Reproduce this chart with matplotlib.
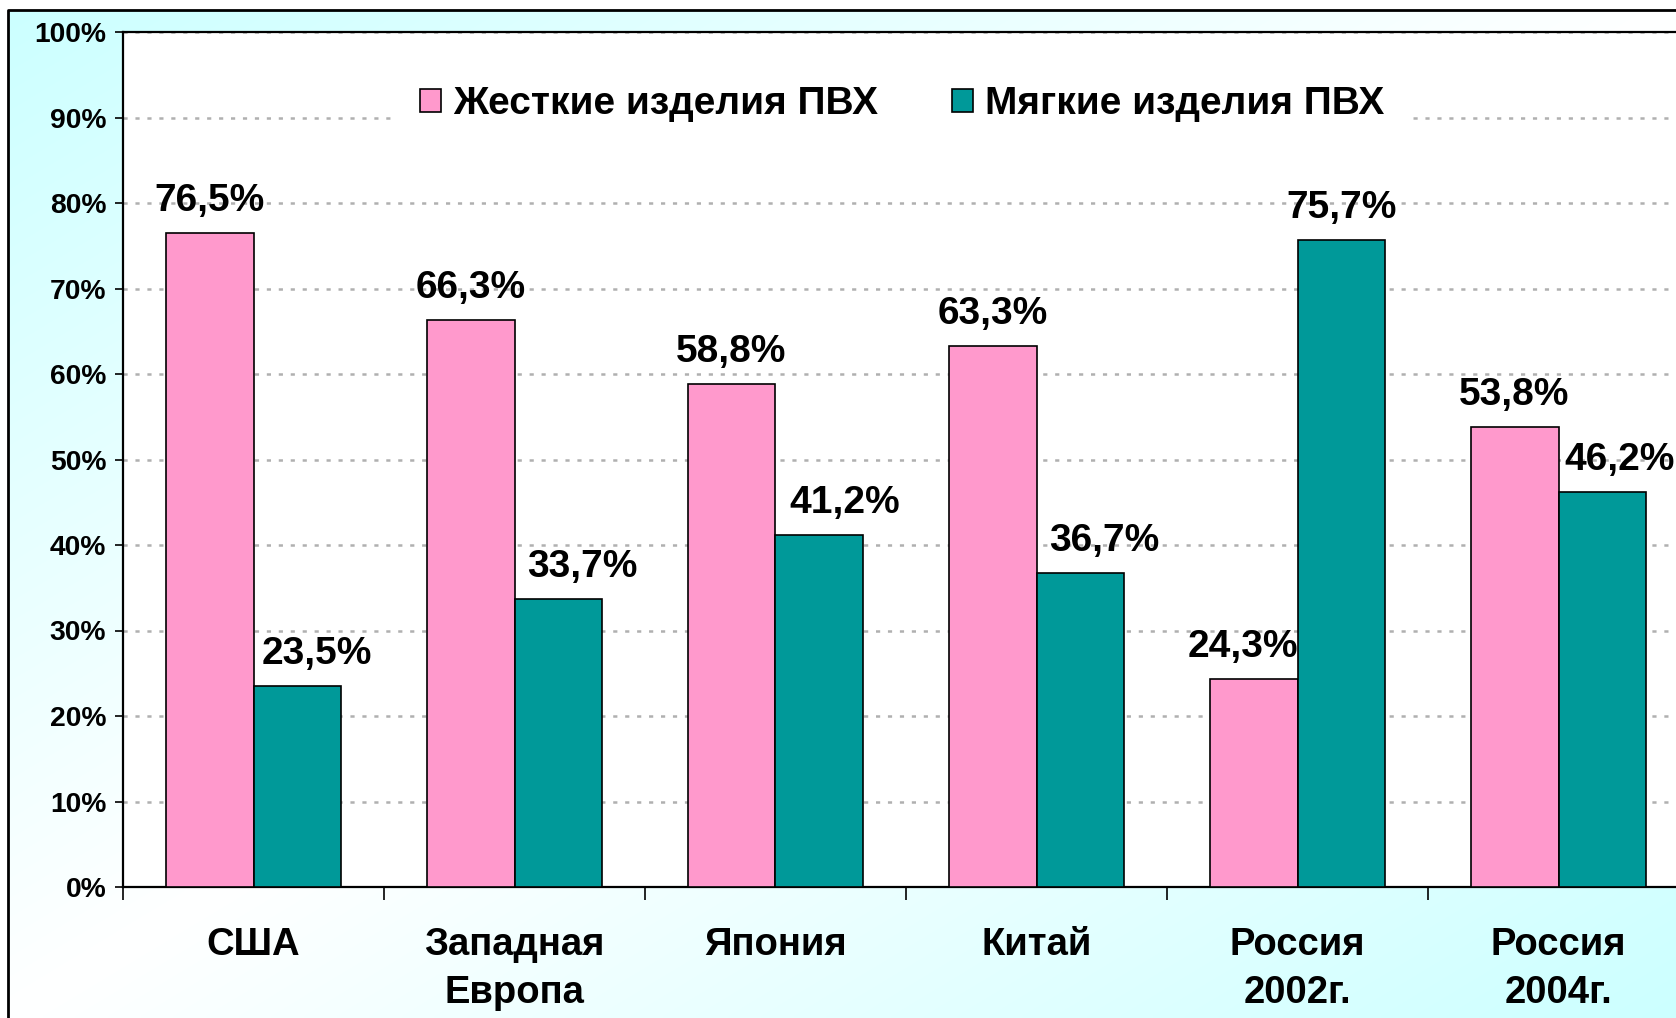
import matplotlib
matplotlib.use('Agg')
import matplotlib.pyplot as plt
import numpy as np
from matplotlib.patches import Patch

categories = ['США', 'Западная\nЕвропа', 'Япония', 'Китай', 'Россия\n2002г.', 'Россия\n2004г.']
rigid = [76.5, 66.3, 58.8, 63.3, 24.3, 53.8]
soft = [23.5, 33.7, 41.2, 36.7, 75.7, 46.2]
series_names = ['Жесткие изделия ПВХ', 'Мягкие изделия ПВХ']
ytick_values = list(range(0, 101, 10))
ytick_labels = ['%d%%' % v for v in ytick_values]

# the value labels in the original were nudged by hand (points)
rigid_dx = [0, 0, 0, 0, -8, 0]
soft_dx = [14, 17, 18, 17, 0, 12]

PINK = '#FF99CC'
TEAL = '#009999'

plt.rcParams['font.family'] = ['Liberation Sans', 'DejaVu Sans']
plt.rcParams['font.weight'] = 'bold'
plt.rcParams['lines.scale_dashes'] = False

W, H = 1676, 1018
fig = plt.figure(figsize=(W / 100, H / 100), dpi=100)

# background: diagonal cyan-white-cyan gradient inside a black frame
bg = fig.add_axes([0, 0, 1, 1], zorder=-10)
bg.axis('off')
u, v = np.meshgrid(np.linspace(0, 1, 400), np.linspace(0, 1, 250))
t = np.abs(u + v - 1)[..., None]
img = np.ones(3) * (1 - t) + np.array([0.8, 1.0, 1.0]) * t
bg.imshow(img, extent=[8 / W, 1, 0, 1 - 10 / H], origin='upper',
          aspect='auto', interpolation='bilinear')
bg.plot([8 / W, 8 / W, 1], [0, 1 - 10 / H, 1 - 10 / H], color='black', lw=2)
bg.set_xlim(0, 1)
bg.set_ylim(0, 1)

ax = fig.add_axes([123 / W, 131 / H, 1566 / W, 855 / H])
ax.set_facecolor('white')

x = np.arange(len(categories))
w = 0.337
ax.bar(x - w / 2, rigid, w, color=PINK, edgecolor='black', lw=1.2, zorder=3)
ax.bar(x + w / 2, soft, w, color=TEAL, edgecolor='black', lw=1.2, zorder=3)

for i in range(len(categories)):
    for val, xx, dx in ((rigid[i], x[i] - w / 2, rigid_dx[i]),
                        (soft[i], x[i] + w / 2, soft_dx[i])):
        ax.annotate(('%.1f%%' % val).replace('.', ','), (xx, val),
                    xytext=(dx, 16), textcoords='offset points',
                    ha='center', va='baseline', fontsize=28,
                    fontweight='bold', zorder=5)

ax.set_xlim(-0.5, len(categories) - 0.5)
ax.set_ylim(0, 100)
ax.set_yticks(ytick_values)
ax.set_yticklabels(ytick_labels, fontsize=20.3, fontweight='bold')
ax.tick_params(axis='y', direction='out', length=6, width=1.2, pad=6)

ax.set_xticks(np.arange(-0.5, len(categories), 1.0))
ax.set_xticklabels([])
ax.tick_params(axis='x', which='major', direction='out', length=9, width=1.2)
ax.set_xticks(x, minor=True)
ax.set_xticklabels(categories, minor=True, fontsize=27.5, fontweight='bold',
                   linespacing=1.45)
ax.tick_params(axis='x', which='minor', length=0, pad=28.5)

ax.yaxis.grid(True, color='#b0b0b0', lw=1.8, dashes=(3, 5.6))
ax.set_axisbelow(True)
for s in ax.spines.values():
    s.set_linewidth(1.6)

handles = [Patch(facecolor=PINK, edgecolor='black', lw=1.2),
           Patch(facecolor=TEAL, edgecolor='black', lw=1.2)]
leg = fig.legend(handles, series_names, loc='center', ncol=2,
                 bbox_to_anchor=(902 / W, 1 - 104 / H),
                 prop={'size': 28, 'weight': 'bold'},
                 handlelength=0.55, handleheight=0.55, handletextpad=0.3,
                 columnspacing=1.9, borderpad=0.7, borderaxespad=0,
                 frameon=True, fancybox=False)
leg.get_frame().set_facecolor('white')
leg.get_frame().set_edgecolor('none')
leg.get_frame().set_alpha(1)

fig.savefig('out.png', dpi=100)
